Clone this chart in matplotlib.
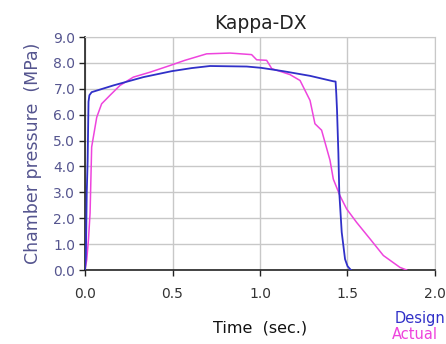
import matplotlib
matplotlib.use("Agg")
import matplotlib.pyplot as plt

design_t = [0.0, 0.005, 0.01, 0.015, 0.02, 0.025, 0.038, 0.162, 0.333, 0.495, 0.61, 0.714, 0.924,
            1.006, 1.133, 1.286, 1.419, 1.432, 1.436, 1.44, 1.448, 1.453, 1.467, 1.486, 1.50, 1.514, 1.52]
design_p = [0.0, 0.5, 3.0, 4.2, 6.5, 6.75, 6.87, 7.13, 7.45, 7.68, 7.8, 7.88, 7.86,
            7.81, 7.68, 7.5, 7.29, 7.28, 6.8, 6.2, 4.5, 3.0, 1.46, 0.42, 0.15, 0.04, 0.0]

actual_t = [0.0, 0.01, 0.02, 0.029, 0.038, 0.067, 0.095, 0.143, 0.2, 0.276, 0.371, 0.486, 0.571,
            0.695, 0.829, 0.952, 0.981, 1.038, 1.067, 1.171, 1.229, 1.286, 1.314, 1.352, 1.4,
            1.419, 1.457, 1.495, 1.552, 1.629, 1.705, 1.8, 1.838]
actual_p = [0.0, 0.4, 1.2, 2.2, 4.75, 5.9, 6.42, 6.75, 7.13, 7.45, 7.64, 7.9, 8.1,
            8.35, 8.38, 8.32, 8.12, 8.1, 7.78, 7.55, 7.32, 6.55, 5.65, 5.4, 4.24,
            3.51, 2.87, 2.36, 1.84, 1.2, 0.56, 0.1, 0.0]

x_ticks = [0.0, 0.5, 1.0, 1.5, 2.0]
y_ticks = [0.0, 1.0, 2.0, 3.0, 4.0, 5.0, 6.0, 7.0, 8.0, 9.0]

design_color = "#3030c8"
actual_color = "#ee44dd"
label_color = "#55558f"

fig = plt.figure(figsize=(4.46, 3.44), dpi=100)
ax = fig.add_axes([0.1906, 0.2151, 0.7847, 0.6773])

ax.plot(actual_t, actual_p, color=actual_color, lw=1.1, zorder=3)
ax.plot(design_t, design_p, color=design_color, lw=1.3, zorder=4)

ax.set_xlim(0, 2.0)
ax.set_ylim(0, 9.0)
ax.set_xticks(x_ticks)
ax.set_yticks(y_ticks)
ax.set_xticklabels([f"{v:.1f}" for v in x_ticks])
ax.set_yticklabels([f"{v:.1f}" for v in y_ticks])
ax.grid(True, color="#c8c8c8", lw=1.0)
ax.set_axisbelow(True)

for s in ["top", "right"]:
    ax.spines[s].set_color("#c8c8c8")
for s in ["left", "bottom"]:
    ax.spines[s].set_color("#222222")
    ax.spines[s].set_linewidth(1.2)

ax.tick_params(axis="both", direction="out", length=4, width=1, colors="#222222", labelsize=10)
for lab in ax.get_yticklabels():
    lab.set_color(label_color)
for lab in ax.get_xticklabels():
    lab.set_color("#333333")
ax.tick_params(axis="x", pad=8)
ax.tick_params(axis="y", pad=3)

ax.set_title("Kappa-DX", fontsize=13.5, color="#222222", pad=6)
ax.set_xlabel("Time  (sec.)", fontsize=11.5, color="#111111", labelpad=14)
ax.set_ylabel("Chamber pressure  (MPa)", fontsize=12.5, color=label_color, labelpad=8)

fig.text(0.998, 0.095, "Design", color=design_color, fontsize=10.5, ha="right", va="top")
fig.text(0.982, 0.050, "Actual", color=actual_color, fontsize=10.5, ha="right", va="top")

fig.savefig("out.png", dpi=100)
